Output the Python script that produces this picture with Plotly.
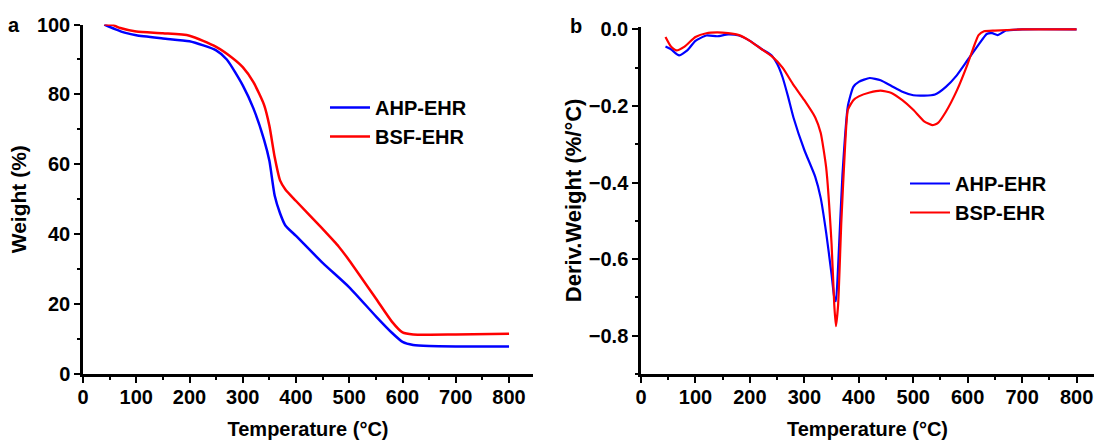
import plotly.graph_objects as go

# ---- Panel a: TGA (Weight %) ----
tga_temp_ahp = [40, 60, 80, 100, 150, 200, 250, 270, 300, 320, 340, 350, 360, 370, 380, 400,
                450, 500, 550, 580, 600, 620, 650, 700, 800]
tga_ahp = [100, 98.7, 97.6, 96.9, 96.0, 95.2, 92.6, 90.0, 82.6, 76, 67, 61, 51, 46, 42.5, 39.5,
           31.8, 24.8, 16.5, 11.8, 9.2, 8.3, 8.0, 7.9, 7.9]
tga_temp_bsf = [40, 55, 70, 100, 150, 200, 250, 280, 300, 320, 340, 350, 360, 370, 380, 400,
                450, 480, 500, 550, 580, 600, 620, 700, 800]
tga_bsf = [100, 99.9, 99.0, 98.0, 97.5, 96.8, 93.6, 90.5, 87.8, 83.5, 77, 71, 62, 55.4, 52.8, 49.5,
           41.5, 36.5, 32.5, 21.6, 15, 11.9, 11.3, 11.3, 11.5]

# ---- Panel b: DTG (Deriv. Weight %/°C) ----
dtg_temp_ahp = [45, 55, 70, 85, 100, 120, 140, 160, 180, 200, 220, 240, 250, 260, 270, 280, 300,
                320, 330, 340, 350, 355, 358, 362, 370, 380, 390, 400, 420, 440, 460, 480, 500,
                520, 540, 560, 580, 600, 620, 635, 645, 655, 670, 700, 800]
dtg_ahp = [-0.045, -0.052, -0.068, -0.055, -0.03, -0.016, -0.018, -0.013, -0.016, -0.03, -0.05,
           -0.068, -0.09, -0.125, -0.175, -0.23, -0.315, -0.385, -0.44, -0.53, -0.64, -0.70, -0.71,
           -0.62, -0.38, -0.2, -0.15, -0.137, -0.127, -0.133, -0.148, -0.163, -0.172, -0.173, -0.17,
           -0.15, -0.12, -0.08, -0.04, -0.012, -0.01, -0.015, -0.003, 0.0, 0.0]
dtg_temp_bsp = [45, 55, 65, 80, 100, 120, 140, 160, 180, 200, 220, 240, 260, 280, 300, 320, 330,
                340, 350, 355, 358, 362, 368, 375, 380, 390, 400, 420, 440, 460, 480, 500, 520, 535,
                545, 560, 580, 600, 610, 620, 630, 650, 700, 800]
dtg_bsp = [-0.02, -0.045, -0.055, -0.045, -0.02, -0.01, -0.008, -0.01, -0.015, -0.03, -0.05, -0.07,
           -0.1, -0.145, -0.185, -0.23, -0.27, -0.36, -0.56, -0.72, -0.775, -0.72, -0.5, -0.3, -0.21,
           -0.185, -0.175, -0.165, -0.16, -0.166, -0.185, -0.21, -0.24, -0.25, -0.245, -0.215, -0.16,
           -0.09, -0.05, -0.015, -0.005, -0.003, 0.0, 0.0]

BLUE = "#0000ff"
RED = "#ff0000"
FONT = "Liberation Sans, Arial, sans-serif"

fig = go.Figure()
fig.add_trace(go.Scatter(x=tga_temp_ahp, y=tga_ahp, mode="lines", name="AHP-EHR",
                         line=dict(color=BLUE, width=2.5, shape="spline", smoothing=0.6),
                         xaxis="x", yaxis="y", legend="legend"))
fig.add_trace(go.Scatter(x=tga_temp_bsf, y=tga_bsf, mode="lines", name="BSF-EHR",
                         line=dict(color=RED, width=2.5, shape="spline", smoothing=0.6),
                         xaxis="x", yaxis="y", legend="legend"))
fig.add_trace(go.Scatter(x=dtg_temp_ahp, y=dtg_ahp, mode="lines", name="AHP-EHR",
                         line=dict(color=BLUE, width=2.2, shape="spline", smoothing=0.5),
                         xaxis="x2", yaxis="y2", legend="legend2"))
fig.add_trace(go.Scatter(x=dtg_temp_bsp, y=dtg_bsp, mode="lines", name="BSP-EHR",
                         line=dict(color=RED, width=2.2, shape="spline", smoothing=0.5),
                         xaxis="x2", yaxis="y2", legend="legend2"))

tickfont = dict(family=FONT, size=20, color="black", weight="bold")
xtitlefont = dict(family=FONT, size=20, color="black", weight="bold")
ytitlefont_a = dict(family=FONT, size=21, color="black", weight="bold")
ytitlefont_b = dict(family=FONT, size=22, color="black", weight="bold")

def axis_common():
    return dict(showline=True, linecolor="black", linewidth=2.5, showgrid=False,
                zeroline=False, ticks="outside", ticklen=6, tickwidth=2.2, tickcolor="black",
                tickfont=tickfont, mirror=False, automargin=False)

minor_x = dict(tickvals=[50, 150, 250, 350, 450, 550, 650, 750], ticks="outside", ticklen=3,
               tickwidth=2, tickcolor="black")

xa = axis_common()
xa.update(domain=[83 / 1094, 533 / 1094], range=[0, 845], tickvals=[0, 100, 200, 300, 400, 500, 600, 700, 800],
          ticklabelstandoff=-3,
          title=dict(text="Temperature (°C)", font=xtitlefont, standoff=16), anchor="y", minor=minor_x)
ya = axis_common()
ya.update(domain=[66 / 440, 415.5 / 440], range=[0, 100], tickvals=[0, 20, 40, 60, 80, 100],
          title=dict(text="Weight (%)", font=ytitlefont_a, standoff=5), anchor="x",
          minor=dict(tickvals=[10, 30, 50, 70, 90], ticks="outside", ticklen=3, tickwidth=2,
                     tickcolor="black"))
xb = axis_common()
xb.update(domain=[641 / 1094, 1.0], range=[0, 832], tickvals=[0, 100, 200, 300, 400, 500, 600, 700, 800],
          ticklabelstandoff=-3,
          title=dict(text="Temperature (°C)", font=xtitlefont, standoff=16), anchor="y2", minor=minor_x)
yb = axis_common()
yb.update(domain=[66 / 440, 413.3 / 440], range=[-0.9, 0.007], tickvals=[-0.8, -0.6, -0.4, -0.2, 0.0],
          tickformat=".1f",
          title=dict(text="Deriv.Weight (%/°C)", font=ytitlefont_b, standoff=2), anchor="x2",
          minor=dict(tickvals=[-0.9, -0.7, -0.5, -0.3, -0.1], ticks="outside", ticklen=3, tickwidth=2,
                     tickcolor="black"))

legfont = dict(family=FONT, size=20, color="black", weight="bold")
fig.update_layout(
    width=1094, height=440,
    margin=dict(l=0, r=0, t=0, b=0),
    paper_bgcolor="white", plot_bgcolor="white",
    xaxis=xa, yaxis=ya, xaxis2=xb, yaxis2=yb,
    legend=dict(x=325 / 1094, y=1 - 88 / 440, xanchor="left", yanchor="top", font=legfont,
                bgcolor="rgba(0,0,0,0)", tracegroupgap=0, itemwidth=40),
    legend2=dict(x=905 / 1094, y=1 - 164 / 440, xanchor="left", yanchor="top", font=legfont,
                 bgcolor="rgba(0,0,0,0)", tracegroupgap=0, itemwidth=40),
    annotations=[
        dict(text="a", x=14.5 / 1094, y=1 - 25 / 440, xref="paper", yref="paper", showarrow=False,
             xanchor="center", yanchor="middle",
             font=dict(family=FONT, size=20, color="black", weight="bold")),
        dict(text="b", x=575.5 / 1094, y=1 - 26 / 440, xref="paper", yref="paper", showarrow=False,
             xanchor="center", yanchor="middle",
             font=dict(family=FONT, size=20, color="black", weight="bold")),
    ],
)

fig.write_html("out.html", config={"displayModeBar": False},
               post_script="document.body.style.margin='0px';")
